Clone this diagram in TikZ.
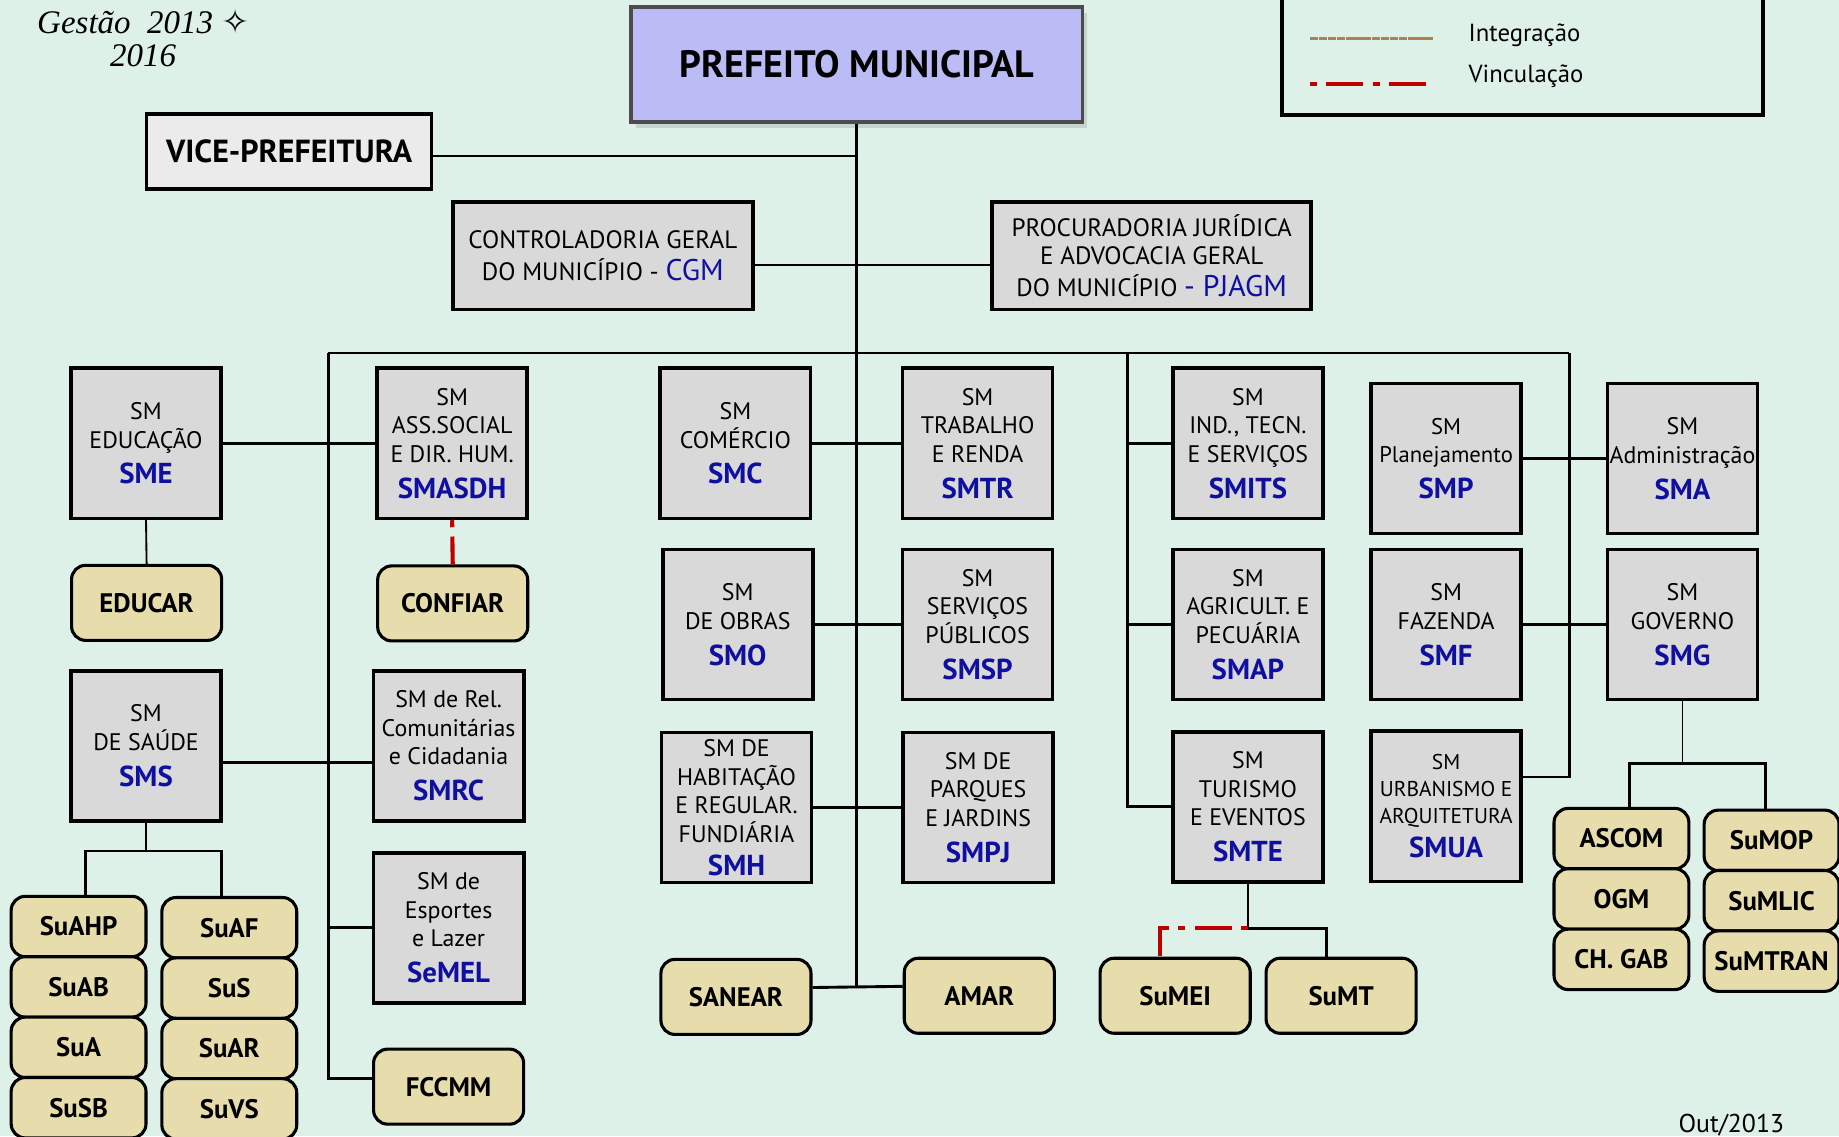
\documentclass[tikz,border=0pt]{standalone}
\usepackage{fontspec}
\setmainfont{PT Sans}
\newfontfamily\manuscrita{Liberation Serif}
\newfontfamily\simbolos{DejaVu Sans}
\usetikzlibrary{positioning,shadows}

\definecolor{fundo}{RGB}{221,241,232}
\definecolor{cinzabox}{RGB}{217,217,217}
\definecolor{bege}{RGB}{231,221,172}
\definecolor{lilas}{RGB}{187,187,245}
\definecolor{azulsigla}{RGB}{16,16,160}
\definecolor{vermelho}{RGB}{192,0,0}
\definecolor{marrom}{RGB}{176,128,80}

\newcommand{\sigla}[1]{{\fontsize{14}{17}\selectfont\bfseries\color{azulsigla}#1}}

\tikzset{
  secretaria/.style={draw=black, line width=1.8pt, fill=cinzabox, minimum width=2.56cm, minimum height=2.56cm, inner sep=0pt, align=center, font={\fontsize{11.6}{13.9}\selectfont}},
  orgao/.style={draw=black, line width=1.5pt, fill=bege, rounded corners=0.24cm, minimum width=2.56cm, minimum height=1.28cm, inner sep=0pt, font={\fontsize{13}{16}\selectfont\bfseries}},
  subsec/.style={orgao, outer sep=0pt, minimum width=2.30cm, minimum height=1.03cm},
  ligacao/.style={draw=black, line width=1.4pt},
  ligfina/.style={draw=black, line width=0.9pt},
  vinculacao/.style={draw=vermelho, line width=2pt, dash pattern=on 3.4pt off 4.5pt on 18pt off 4.5pt},
  integracao/.style={draw=marrom, line width=1.4pt, dash pattern=on 4pt off 0.3pt},
}

\begin{document}
\begin{tikzpicture}[x=0.02cm, y=-0.02cm]

\useasboundingbox (0,0) rectangle (1568,969);
\fill[fundo] (0,0) rectangle (1568,969);

\node[font={\manuscrita\itshape\fontsize{16}{16}\selectfont}, align=center] (gestao) at (122,32) {Gestão~~2013 {\simbolos ✧}\\2016};

\draw[line width=1.8pt] (1093,-20) rectangle (1503,98);
\coordinate (leg1) at (1117,33);
\draw[integracao] (leg1) -- ++(105,0);
\node[anchor=west, font={\fontsize{12}{14}\selectfont}] (integ) at (1246,30) {Integração};
\coordinate (leg2) at (1117,72);
\draw[vinculacao] (leg2) -- ++(105,0);
\node[anchor=west, font={\fontsize{12}{14}\selectfont}] (vinc) at (1246,65) {Vinculação};

\node[draw=gray!60!black, line width=1.8pt, fill=lilas, minimum width=7.70cm, minimum height=1.96cm, drop shadow={opacity=0.25, shadow xshift=0.08cm, shadow yshift=-0.1cm}, font={\fontsize{18.5}{20}\selectfont\bfseries}] (prefeito) at (730.5,55) {PREFEITO MUNICIPAL};
\node[draw=black, line width=1.8pt, fill=gray!16, minimum width=4.86cm, minimum height=1.28cm, font={\fontsize{15.5}{17}\selectfont\bfseries}] (vice) at (246.5,129) {VICE-PREFEITURA};
\node[draw=black, line width=1.8pt, fill=cinzabox, minimum width=5.12cm, minimum height=1.84cm, align=center, font={\fontsize{12.2}{13.9}\selectfont}] (cgm) at (514,218) {CONTROLADORIA GERAL\\[2pt]DO MUNICÍPIO - {\fontsize{14.5}{16}\selectfont\color{azulsigla}CGM}};
\node[draw=black, line width=1.8pt, fill=cinzabox, minimum width=5.44cm, minimum height=1.84cm, align=center, font={\fontsize{12.2}{13.6}\selectfont}] (pjagm) at (982,218) {PROCURADORIA JURÍDICA\\E ADVOCACIA GERAL\\[2pt]DO MUNICÍPIO {\fontsize{14.5}{16}\selectfont\color{azulsigla}- PJAGM}};

\node[secretaria] (sme) at (124.5,378) {SM\\EDUCAÇÃO\\[3.5pt]\sigla{SME}};
\node[orgao] (educar) at (125,514) {EDUCAR};
\node[secretaria] (sms) at (124.5,636) {SM\\DE SAÚDE\\[3.5pt]\sigla{SMS}};
\node[subsec] (suahp) at (67,790) {SuAHP};
\node[subsec, below=0pt of suahp] (suab) {SuAB};
\node[subsec, below=0pt of suab] (sua) {SuA};
\node[subsec, below=0pt of sua] (susb) {SuSB};
\node[subsec] (suaf) at (195.5,791) {SuAF};
\node[subsec, below=0pt of suaf] (sus) {SuS};
\node[subsec, below=0pt of sus] (suar) {SuAR};
\node[subsec, below=0pt of suar] (suvs) {SuVS};

\node[secretaria] (smasdh) at (385.5,378) {SM\\ASS.SOCIAL\\E DIR. HUM.\\[3.5pt]\sigla{SMASDH}};
\node[orgao] (confiar) at (386,514.5) {CONFIAR};
\node[secretaria] (smrc) at (382.5,636) {SM de Rel.\\Comunitárias\\e Cidadania\\[3.5pt]\sigla{SMRC}};
\node[secretaria] (semel) at (382.5,791) {SM de\\Esportes\\e Lazer\\[3.5pt]\sigla{SeMEL}};
\node[orgao] (fccmm) at (382.5,926.5) {FCCMM};

\node[secretaria] (smc) at (627,378) {SM\\COMÉRCIO\\[3.5pt]\sigla{SMC}};
\node[secretaria] (smo) at (629,532.5) {SM\\DE OBRAS\\[3.5pt]\sigla{SMO}};
\node[secretaria] (smh) at (628,688.5) {SM DE\\HABITAÇÃO\\E REGULAR.\\FUNDIÁRIA\\[2pt]\sigla{SMH}};
\node[orgao] (sanear) at (627.5,850) {SANEAR};

\node[secretaria] (smtr) at (833.5,378) {SM\\TRABALHO\\E RENDA\\[3.5pt]\sigla{SMTR}};
\node[secretaria] (smsp) at (833.5,532.5) {SM\\SERVIÇOS\\PÚBLICOS\\[3.5pt]\sigla{SMSP}};
\node[secretaria] (smpj) at (834,688.5) {SM DE\\PARQUES\\E JARDINS\\[3.5pt]\sigla{SMPJ}};
\node[orgao] (amar) at (835,849) {AMAR};

\node[secretaria] (smits) at (1064,378) {SM\\IND., TECN.\\E SERVIÇOS\\[3.5pt]\sigla{SMITS}};
\node[secretaria] (smap) at (1064,532.5) {SM\\AGRICULT. E\\PECUÁRIA\\[3.5pt]\sigla{SMAP}};
\node[secretaria] (smte) at (1064,688) {SM\\TURISMO\\E EVENTOS\\[3.5pt]\sigla{SMTE}};
\node[orgao] (sumei) at (1002,849) {SuMEI};
\node[orgao] (sumt) at (1143.5,849) {SuMT};

\node[secretaria, font={\fontsize{11}{13.9}\selectfont}] (smp) at (1233,391) {SM\\Planejamento\\[3.5pt]\sigla{SMP}};
\node[secretaria] (smf) at (1233,532.5) {SM\\FAZENDA\\[3.5pt]\sigla{SMF}};
\node[secretaria, font={\fontsize{10.4}{13}\selectfont}] (smua) at (1233,687.5) {SM\\URBANISMO E\\ARQUITETURA\\[3.5pt]\sigla{SMUA}};

\node[secretaria] (sma) at (1434.5,391) {SM\\Administração\\[3.5pt]\sigla{SMA}};
\node[secretaria] (smg) at (1434.5,532.5) {SM\\GOVERNO\\[3.5pt]\sigla{SMG}};
\node[subsec] (ascom) at (1382.5,715) {ASCOM};
\node[subsec, below=0pt of ascom] (ogm) {OGM};
\node[subsec, below=0pt of ogm] (chgab) {CH. GAB};
\node[subsec] (sumop) at (1510.5,716.5) {SuMOP};
\node[subsec, below=0pt of sumop] (sumlic) {SuMLIC};
\node[subsec, below=0pt of sumlic] (sumtran) {SuMTRAN};

\coordinate (barral) at (280,301);
\coordinate (barram) at (961,301);
\coordinate (barrar) at (1338,301);
\coordinate[below=0.48cm of sms.south] (smsj);
\coordinate[below=1.06cm of smg.south] (smgj);
\coordinate[below=0.76cm of smte.south] (smtej);

\draw[ligacao] (prefeito.south) -- (prefeito.south |- sanear.7);
\draw[ligacao] ([yshift=-0.08cm]vice.east) -- ([yshift=-0.08cm]vice.east -| prefeito.south);
\draw[ligacao] ([yshift=-0.16cm]cgm.east) -- ([yshift=-0.16cm]pjagm.west);
\draw[ligacao] (barral) -- (barrar);
\draw[ligacao] (barral) |- ([yshift=0.14cm]fccmm.west);
\draw[ligacao] (barram) |- (smte.west);
\draw[ligacao] ([yshift=0.5cm]smua.east) -| (barrar);

\draw[ligacao] (sme.east) -- (smasdh.west);
\draw[ligacao] ([yshift=-0.28cm]sms.east) -- ([yshift=-0.28cm]smrc.west);
\draw[ligacao] (barral |- semel.west) -- (semel.west);
\draw[ligacao] (smc.east) -- (smtr.west);
\draw[ligacao] (smo.east) -- (smsp.west);
\draw[ligacao] (smh.east) -- (smpj.west);
\draw[ligacao] (sanear.7) -- (amar.173);
\draw[ligacao] (barram |- smits.west) -- (smits.west);
\draw[ligacao] (barram |- smap.west) -- (smap.west);
\draw[ligacao] (smp.east) -- (sma.west);
\draw[ligacao] (smf.east) -- (smg.west);

\draw[ligfina] (sme.south) -- (educar.north);
\draw[vinculacao] (smasdh.south) -- (confiar.north);
\draw[ligfina] (sms.south) -- (smsj);
\draw[ligacao] ([xshift=0.12cm]suahp.north) |- (smsj) -| ([xshift=-0.13cm]suaf.north);
\draw[ligfina] (smg.south) -- (smgj);
\draw[ligacao] ([xshift=0.13cm]ascom.north) |- (smgj) -| ([xshift=-0.11cm]sumop.north);
\draw[ligfina] (smte.south) -- (smtej);
\draw[ligacao] (smtej) -| ([xshift=-0.25cm]sumt.north);
\draw[vinculacao] (smtej) -| ([xshift=-0.26cm]sumei.north);

\node[anchor=base west, font={\fontsize{12.5}{15}\selectfont}] (data) at (1425,966) {Out/2013};

\end{tikzpicture}
\end{document}
